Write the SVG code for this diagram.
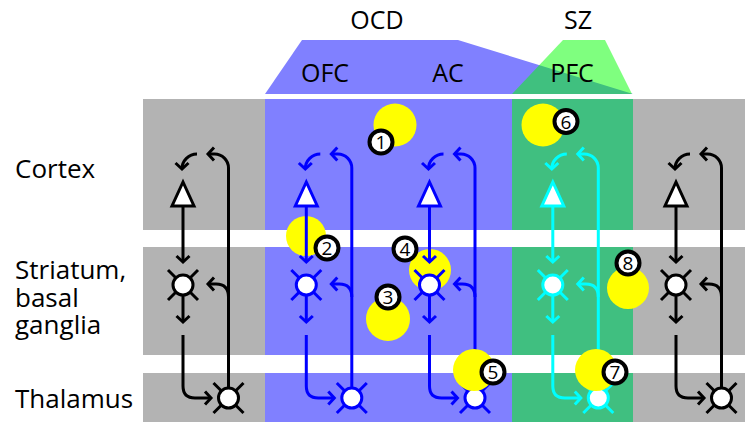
<svg xmlns="http://www.w3.org/2000/svg" xmlns:xlink="http://www.w3.org/1999/xlink" width="745" height="422" viewBox="0 0 745 422">
<style>
text{font-family:"Open Sans","Noto Sans","Liberation Sans",sans-serif;fill:#000}
.lbl{font-size:26px}
.top{font-size:25px;text-anchor:middle}
.num{font-size:19px;text-anchor:middle}
.yel{fill:#ffff00}
.badge{fill:#fff;stroke:#000;stroke-width:4}
.k{stroke:#000;color:#000}
.b{stroke:#0000ff;color:#0000ff}
.c{stroke:#00ffff;color:#00ffff}
.ln{fill:none;stroke-width:3}
.tri{fill:#fff;stroke-width:3;stroke-linejoin:miter}
.nrn{stroke-width:3}
</style>
<defs>
<marker id="ak" viewBox="-9 -9 13 18" markerWidth="13" markerHeight="18" refX="0" refY="0" orient="auto" markerUnits="userSpaceOnUse"><path d="M-6,-6.5 L0,0 L-6,6.5" fill="none" stroke="#000" stroke-width="3"/></marker>
<marker id="ab" viewBox="-9 -9 13 18" markerWidth="13" markerHeight="18" refX="0" refY="0" orient="auto" markerUnits="userSpaceOnUse"><path d="M-6,-6.5 L0,0 L-6,6.5" fill="none" stroke="#0000ff" stroke-width="3"/></marker>
<marker id="ac" viewBox="-9 -9 13 18" markerWidth="13" markerHeight="18" refX="0" refY="0" orient="auto" markerUnits="userSpaceOnUse"><path d="M-6,-6.5 L0,0 L-6,6.5" fill="none" stroke="#00ffff" stroke-width="3"/></marker>
<g id="neuron"><path d="M-15,-15 L15,15 M15,-15 L-15,15" fill="none"/><circle r="10" fill="#fff"/></g>
<g id="circ">
<path d="M14,154 A15,15 0 0 0 -1,169"/>
<path d="M45.5,398 V168 A14,14 0 0 0 31.5,154 H25"/>
<path d="M0,206 V262"/>
<path d="M0,296 V322"/>
<path d="M0,335 V386 Q0,398 12,398 H28"/>
<path d="M45.5,297 Q45.5,284 33,284 H25"/>
</g>
</defs>

<g id="background">
<polygon points="265,94 302,40 458,40 633,94" fill="#8080ff"/>
<polygon points="512,94 563,40 605,40 632,94" fill="#00ff00" fill-opacity="0.5"/>
<rect x="143" y="99" width="602" height="323" fill="#b3b3b3"/>
<rect x="265" y="99" width="247" height="323" fill="#8080ff"/>
<rect x="512" y="99" width="121" height="323" fill="#40bf80"/>
<rect x="143" y="230" width="602" height="17" fill="#fff"/>
<rect x="143" y="355" width="602" height="18" fill="#fff"/>
</g>

<g id="labels">
<text class="top" x="377" y="29">OCD</text>
<text class="top" x="578" y="29">SZ</text>
<text class="top" x="325" y="82">OFC</text>
<text class="top" x="448" y="82">AC</text>
<text class="top" x="572" y="82">PFC</text>
<text class="lbl" x="15" y="178">Cortex</text>
<text class="lbl" x="15" y="279">Striatum,</text>
<text class="lbl" x="15" y="307">basal</text>
<text class="lbl" x="15" y="334">ganglia</text>
<text class="lbl" x="15" y="408">Thalamus</text>
</g>

<g id="sites-under">
<circle class="yel" cx="306" cy="236" r="20"/>
<circle class="yel" cx="430" cy="270" r="21"/>
</g>

<g id="connectors">
<g class="ln k" marker-end="url(#ak)"><use xlink:href="#circ" href="#circ" transform="translate(183,0)"/></g>
<g class="ln b" marker-end="url(#ab)"><use xlink:href="#circ" href="#circ" transform="translate(306.3,0)"/></g>
<g class="ln b" marker-end="url(#ab)"><use xlink:href="#circ" href="#circ" transform="translate(429.5,0)"/></g>
<g class="ln c" marker-end="url(#ac)"><use xlink:href="#circ" href="#circ" transform="translate(552.8,0)"/></g>
<g class="ln k" marker-end="url(#ak)"><use xlink:href="#circ" href="#circ" transform="translate(676,0)"/></g>
</g>

<g id="col-left" class="k">
<polygon class="tri" points="183,182 172,206 194,206"/>
<use class="nrn" href="#neuron" xlink:href="#neuron" transform="translate(183,285)"/>
<use class="nrn" href="#neuron" xlink:href="#neuron" transform="translate(228.5,398)"/>
</g>
<g id="col-ofc" class="b">
<polygon class="tri" points="306.3,182 295.3,206 317.3,206"/>
<use class="nrn" href="#neuron" xlink:href="#neuron" transform="translate(306.3,285)"/>
<use class="nrn" href="#neuron" xlink:href="#neuron" transform="translate(351.8,398)"/>
</g>
<g id="col-ac" class="b">
<polygon class="tri" points="429.5,182 418.5,206 440.5,206"/>
<use class="nrn" href="#neuron" xlink:href="#neuron" transform="translate(429.5,285)"/>
<use class="nrn" href="#neuron" xlink:href="#neuron" transform="translate(475,398)"/>
</g>
<g id="col-pfc" class="c">
<polygon class="tri" points="552.8,182 541.8,206 563.8,206"/>
<use class="nrn" href="#neuron" xlink:href="#neuron" transform="translate(552.8,285)"/>
<use class="nrn" href="#neuron" xlink:href="#neuron" transform="translate(598.3,398)"/>
</g>
<g id="col-right" class="k">
<polygon class="tri" points="676,182 665,206 687,206"/>
<use class="nrn" href="#neuron" xlink:href="#neuron" transform="translate(676,285)"/>
<use class="nrn" href="#neuron" xlink:href="#neuron" transform="translate(721.5,398)"/>
</g>

<g id="sites-over">
<circle class="yel" cx="395" cy="125" r="21.5"/>
<circle class="yel" cx="543" cy="125" r="21.5"/>
<circle class="yel" cx="388" cy="319" r="22"/>
<circle class="yel" cx="474" cy="370" r="21"/>
<circle class="yel" cx="596" cy="370" r="21"/>
<circle class="yel" cx="628" cy="288" r="21"/>
</g>

<g id="badges">
<g id="b1"><circle class="badge" cx="381" cy="142" r="11.5"/><text class="num" x="381" y="149">1</text></g>
<g id="b2"><circle class="badge" cx="327" cy="248" r="11.5"/><text class="num" x="327" y="255">2</text></g>
<g id="b3"><circle class="badge" cx="388" cy="297" r="11.5"/><text class="num" x="388" y="304">3</text></g>
<g id="b4"><circle class="badge" cx="405" cy="249" r="11.5"/><text class="num" x="405" y="256">4</text></g>
<g id="b5"><circle class="badge" cx="493" cy="372" r="11.5"/><text class="num" x="493" y="379">5</text></g>
<g id="b6"><circle class="badge" cx="566" cy="121.5" r="11.5"/><text class="num" x="566" y="128.5">6</text></g>
<g id="b7"><circle class="badge" cx="615" cy="372" r="11.5"/><text class="num" x="615" y="379">7</text></g>
<g id="b8"><circle class="badge" cx="628" cy="263" r="11.5"/><text class="num" x="628" y="270">8</text></g>
</g>
</svg>
